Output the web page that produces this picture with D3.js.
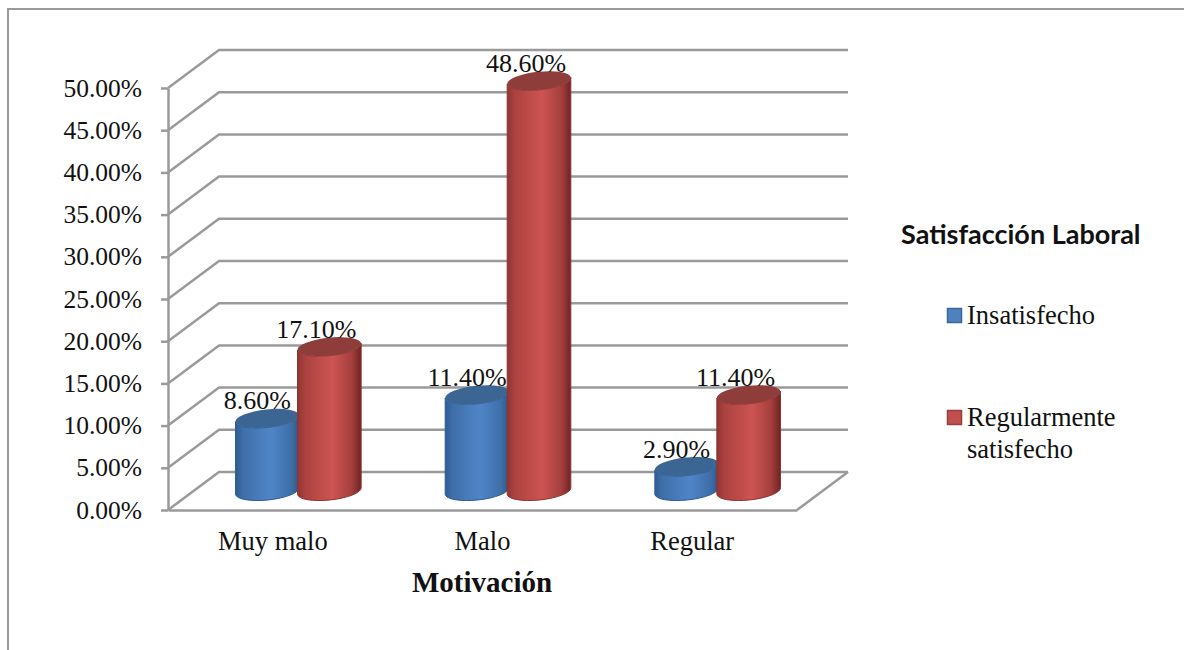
<!DOCTYPE html>
<html>
<head>
<meta charset="utf-8">
<script src="https://cdnjs.cloudflare.com/ajax/libs/d3/7.8.5/d3.min.js"></script>
<style>
  html, body { margin: 0; padding: 0; background: #fff; }
  svg { display: block; }
  text { fill: #111; }
  .serif { font-family: "Liberation Serif", serif; font-size: 26px; }
  .legend-text { font-family: "Liberation Serif", serif; font-size: 26.5px; }
  .axis path.domain { stroke: #9a9a9a; stroke-width: 2.5px; }
  .axis line { stroke: #9a9a9a; stroke-width: 2.5px; }
  .axis text { font-family: "Liberation Serif", serif; fill: #111; }
  .axis.value text { font-size: 25.5px; }
  .axis.category text { font-size: 26.5px; }
</style>
</head>
<body>
<svg id="chart" width="1184" height="650"></svg>
<script>
// Motivación vs. Satisfacción Laboral, percentages per group
const categories = ["Muy malo", "Malo", "Regular"];
const seriesNames = ["Insatisfecho", "Regularmente satisfecho"];
const insatisfecho = [8.6, 11.4, 2.9];
const regularmente = [17.1, 48.6, 11.4];
const valueTicks = [0, 5, 10, 15, 20, 25, 30, 35, 40, 45, 50];
const valueLabels = ["8.60%", "11.40%", "2.90%"];
const regularLabels = ["17.10%", "48.60%", "11.40%"];

const svg = d3.select("#chart");

// Chart frame: top and left edges remain inside the page
svg.append("path")
  .attr("d", "M8,652V9H1186")
  .attr("fill", "none").attr("stroke", "#9a9a9a").attr("stroke-width", 2);

// Oblique projection of the 3D box
const depthX = 51, depthY = -38;
const x = d3.scaleBand().domain(categories).range([168, 797]);
const y = d3.scaleLinear().domain([0, 50]).range([510, 88]);
const inner = d3.scaleBand().domain([0, 1]).range([-62, 62]);

const wall = svg.append("g").attr("fill", "none").attr("stroke", "#9a9a9a").attr("stroke-width", 2.5);

// Back-wall gridlines and side-wall slants
wall.selectAll("path.grid").data(valueTicks).join("path")
  .attr("class", "grid")
  .attr("stroke-linejoin", "round")
  .attr("d", d => {
    const y0 = y(d);
    const xL = x.range()[0];
    return `M${xL},${y0}L${xL + depthX},${y0 + depthY}H${x.range()[1] + depthX}`;
  });

// Floor edge on the right
const floorY = y(0), xr = x.range();
wall.append("path")
  .attr("d", `M${xr[1]},${floorY}L${xr[1] + depthX},${floorY + depthY}`);

// Value axis on the front-left edge
svg.append("g").attr("class", "axis value")
  .attr("transform", `translate(${xr[0]},0)`)
  .call(d3.axisLeft(y).tickValues(valueTicks).tickSize(7).tickPadding(19)
    .tickSizeOuter(0).tickFormat(d => d3.format(".2f")(d) + "%"));

// Front floor edge with category names
svg.append("g").attr("class", "axis category")
  .attr("transform", `translate(0,${floorY})`)
  .call(d3.axisBottom(x).tickSize(0).tickPadding(21))
  .call(g => g.selectAll("text").attr("dy", "0.71em"));

// Cylinder shading
const defs = svg.append("defs");
function shade(id, stops) {
  const g = defs.append("linearGradient").attr("id", id);
  stops.forEach(([o, c]) => g.append("stop").attr("offset", o).attr("stop-color", c));
}
shade("bodyBlue", [[0, "#2f5c95"], [0.12, "#3f6fa9"], [0.55, "#4f85c8"], [0.88, "#3e6ea8"], [1, "#2c5688"]]);
shade("bodyRed", [[0, "#8e3533"], [0.12, "#ac4240"], [0.55, "#cd5452"], [0.85, "#a53f3d"], [1, "#6e2423"]]);

const rx = 32, ry = 9, tilt = -6;
const dx = rx * Math.cos(tilt * Math.PI / 180);
const dy = rx * Math.sin(tilt * Math.PI / 180);
const baseShiftX = depthX / 2, baseShiftY = -19;

const barCentre = (i, idx) =>
  x(categories[i]) + x.bandwidth() / 2 + baseShiftX + inner(idx) + inner.bandwidth() / 2;

function drawSeries(values, idx, body, top, rim) {
  const marks = svg.append("g").selectAll("g").data(values).join("g");
  marks.append("path")
    .attr("fill", body).attr("stroke", rim).attr("stroke-width", 1)
    .attr("d", (d, i) => {
      const c = barCentre(i, idx), b = y(0) + baseShiftY, t = y(d) + baseShiftY;
      return `M${c - dx},${t - dy}L${c - dx},${b - dy}` +
        `A${rx},${ry} ${tilt} 0 0 ${c + dx},${b + dy}` +
        `L${c + dx},${t + dy}A${rx},${ry} ${tilt} 0 1 ${c - dx},${t - dy}Z`;
    });
  marks.append("ellipse")
    .attr("fill", top).attr("rx", rx).attr("ry", ry)
    .attr("transform", (d, i) => `translate(${barCentre(i, idx)},${y(d) + baseShiftY}) rotate(${tilt})`);
}
drawSeries(insatisfecho, 0, "url(#bodyBlue)", "#3b6593", "#2f5c95");
drawSeries(regularmente, 1, "url(#bodyRed)", "#8f3d3b", "#8e3533");

// Data labels sit above each cylinder cap
function drawLabels(values, labels, idx, shift) {
  svg.append("g").selectAll("text").data(values).join("text")
    .attr("class", "serif").attr("text-anchor", "middle")
    .attr("x", (d, i) => barCentre(i, idx) + shift)
    .attr("y", d => y(d) + baseShiftY - 9)
    .text((d, i) => labels[i]);
}
drawLabels(insatisfecho, valueLabels, 0, -10);
drawLabels(regularmente, regularLabels, 1, -13);

// Axis title
svg.append("text").attr("x", 482).attr("y", 592).attr("text-anchor", "middle")
  .attr("font-family", "Liberation Serif, serif").attr("font-weight", "bold").attr("font-size", 29)
  .text("Motivación");

// Legend
svg.append("text").attr("x", 901).attr("y", 244)
  .attr("font-family", "Lato, sans-serif").attr("font-weight", "bold").attr("font-size", 27)
  .text("Satisfacción Laboral");

const legendRows = [
  { y: 315.5, fill: "#4f81bd", stroke: "#38689f", lines: [seriesNames[0]] },
  { y: 417.5, fill: "#c0504d", stroke: "#9b3e3b", lines: ["Regularmente", "satisfecho"] }
];
const lg = svg.append("g").selectAll("g").data(legendRows).join("g");
lg.append("rect")
  .attr("x", 947.5).attr("y", d => d.y - 7).attr("width", 14).attr("height", 14)
  .attr("fill", d => d.fill).attr("stroke", d => d.stroke).attr("stroke-width", 1.5);
lg.each(function (d) {
  d3.select(this).selectAll("text").data(d.lines).join("text")
    .attr("class", "legend-text").attr("x", 967)
    .attr("y", (_, i) => d.y + 8.5 + i * 32)
    .text(t => t);
});
</script>
</body>
</html>
